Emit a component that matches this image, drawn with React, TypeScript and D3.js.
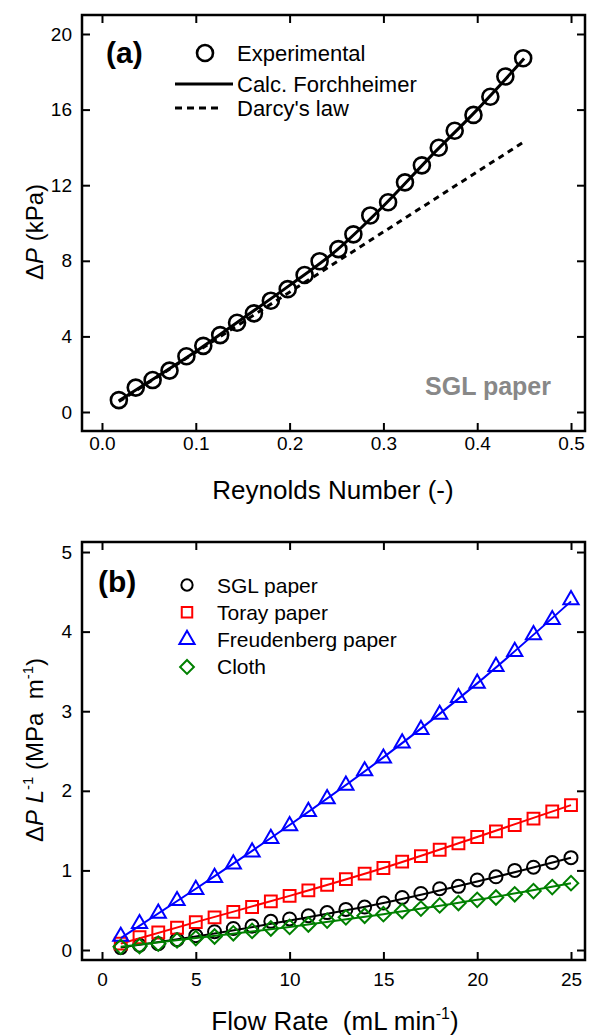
import React, { useRef, useEffect } from 'react';
import * as d3 from 'd3';

// panel (a): SGL paper, pressure drop vs Reynolds number
const reynolds = [
  0.018, 0.036, 0.054, 0.072, 0.09, 0.108, 0.126, 0.144, 0.162, 0.18, 0.198, 0.216, 0.232,
  0.252, 0.268, 0.286, 0.305, 0.323, 0.341, 0.359, 0.376, 0.396, 0.414, 0.43, 0.449
];
const dpExperimental = [
  0.63, 1.29, 1.69, 2.19, 2.95, 3.5, 4.07, 4.72, 5.22, 5.89, 6.5, 7.25, 7.98,
  8.62, 9.4, 10.4, 11.1, 12.15, 13.05, 13.98, 14.88, 15.72, 16.68, 17.75, 18.72
];
const forchReynolds = [0.018, 0.05, 0.1, 0.15, 0.2, 0.25, 0.3, 0.35, 0.4, 0.45];
const forchDp = [0.6, 1.6, 3.2, 4.95, 6.7, 8.55, 10.9, 13.5, 16.0, 18.7];
const darcyReynolds = [0.018, 0.45];
const darcyDp = [0.55, 14.3];
const reTicks = [0, 0.1, 0.2, 0.3, 0.4, 0.5];
const dpTicks = [0, 4, 8, 12, 16, 20];

// panel (b): pressure gradient vs flow rate
const flowRate = [1, 2, 3, 4, 5, 6, 7, 8, 9, 10, 11, 12, 13, 14, 15, 16, 17, 18, 19, 20, 21, 22, 23, 24, 25];
const sglPaper = [
  0.03, 0.06, 0.08, 0.13, 0.18, 0.23, 0.27, 0.3, 0.36, 0.39, 0.43, 0.47, 0.51,
  0.54, 0.59, 0.66, 0.71, 0.77, 0.8, 0.88, 0.92, 1.0, 1.04, 1.1, 1.16
];
const torayPaper = [
  0.08, 0.16, 0.22, 0.28, 0.35, 0.41, 0.48, 0.54, 0.61, 0.68, 0.75, 0.82, 0.89,
  0.96, 1.03, 1.11, 1.18, 1.26, 1.34, 1.42, 1.49, 1.57, 1.65, 1.74, 1.82
];
const freudenbergPaper = [
  0.17, 0.33, 0.46, 0.62, 0.76, 0.91, 1.08, 1.23, 1.4, 1.56, 1.74, 1.9, 2.07,
  2.25, 2.41, 2.6, 2.77, 2.96, 3.17, 3.35, 3.56, 3.75, 3.96, 4.15, 4.4
];
const cloth = [
  0.04, 0.05, 0.08, 0.12, 0.15, 0.17, 0.21, 0.24, 0.27, 0.29, 0.32, 0.37, 0.41,
  0.43, 0.45, 0.49, 0.52, 0.56, 0.59, 0.63, 0.66, 0.7, 0.74, 0.79, 0.84
];
const fitFlow = [1, 5, 10, 15, 20, 25];
const sglFit = [0.03, 0.17, 0.37, 0.59, 0.86, 1.16];
const torayFit = [0.08, 0.35, 0.68, 1.03, 1.42, 1.82];
const freudenbergFit = [0.15, 0.77, 1.57, 2.42, 3.35, 4.38];
const clothFit = [0.04, 0.15, 0.29, 0.45, 0.63, 0.84];
const flowTicks = [0, 5, 10, 15, 20, 25];
const gradTicks = [0, 1, 2, 3, 4, 5];

const seriesNames = ['SGL paper', 'Toray paper', 'Freudenberg paper', 'Cloth'];

export default function App() {
  const svgRef = useRef<SVGSVGElement>(null);

  useEffect(() => {
    const svg = d3.select(svgRef.current);
    svg.selectAll('*').remove();
    svg.attr('font-family', "'Liberation Sans', Arial, sans-serif");

    // draws frame with inward ticks on all four sides
    const frame = (x, y, xt, yt, xfmt, xpad) => {
      const [x0, x1] = x.range();
      const [y0, y1] = y.range();
      const style = g => {
        g.select('.domain').remove();
        g.selectAll('line').attr('stroke', '#000').attr('stroke-width', 2);
        g.selectAll('text').attr('font-size', 19).attr('fill', '#000').attr('font-family', null);
        g.attr('font-family', null).attr('font-size', null);
      };
      svg.append('g').attr('transform', `translate(0,${y0})`)
        .call(d3.axisBottom(x).tickValues(xt).tickFormat(xfmt).tickSizeInner(-8).tickSizeOuter(0).tickPadding(xpad))
        .call(style);
      svg.append('g').attr('transform', `translate(0,${y1})`)
        .call(d3.axisTop(x).tickValues(xt).tickFormat(() => '').tickSizeInner(-8).tickSizeOuter(0))
        .call(style);
      svg.append('g').attr('transform', `translate(${x0},0)`)
        .call(d3.axisLeft(y).tickValues(yt).tickFormat(d3.format('d')).tickSizeInner(-8).tickSizeOuter(0).tickPadding(10))
        .call(style);
      svg.append('g').attr('transform', `translate(${x1},0)`)
        .call(d3.axisRight(y).tickValues(yt).tickFormat(() => '').tickSizeInner(-8).tickSizeOuter(0))
        .call(style);
      svg.append('rect')
        .attr('x', x0).attr('y', y1)
        .attr('width', x1 - x0).attr('height', y0 - y1)
        .attr('fill', 'none').attr('stroke', '#000').attr('stroke-width', 2.5);
    };

    // ---------- panel (a) ----------
    const xA = d3.scaleLinear().domain([-0.0213, 0.5149]).range([82, 585]);
    const yA = d3.scaleLinear().domain([-1.005, 21.005]).range([431, 15]);
    frame(xA, yA, reTicks, dpTicks, d3.format('.1f'), 6);

    const lineA = d3.line<number>().curve(d3.curveMonotoneX);
    svg.append('path')
      .attr('d', lineA(darcyReynolds.map((r, i) => [xA(r), yA(darcyDp[i])])))
      .attr('fill', 'none').attr('stroke', '#000').attr('stroke-width', 3)
      .attr('stroke-dasharray', '6,5');
    svg.append('path')
      .attr('d', lineA(forchReynolds.map((r, i) => [xA(r), yA(forchDp[i])])))
      .attr('fill', 'none').attr('stroke', '#000').attr('stroke-width', 3);
    svg.append('g').selectAll('circle')
      .data(reynolds)
      .enter()
      .append('circle')
      .attr('cx', d => xA(d))
      .attr('cy', (d, i) => yA(dpExperimental[i]))
      .attr('r', 8)
      .attr('fill', 'none').attr('stroke', '#000').attr('stroke-width', 2.6);

    svg.append('text').text('(a)')
      .attr('x', 106).attr('y', 63)
      .attr('font-size', 30).attr('font-weight', 'bold');

    // legend (a)
    svg.append('circle').attr('cx', 205).attr('cy', 53).attr('r', 8)
      .attr('fill', 'none').attr('stroke', '#000').attr('stroke-width', 2.6);
    svg.append('line').attr('x1', 175).attr('x2', 233).attr('y1', 84).attr('y2', 84)
      .attr('stroke', '#000').attr('stroke-width', 3);
    svg.append('line').attr('x1', 175).attr('x2', 222).attr('y1', 108).attr('y2', 108)
      .attr('stroke', '#000').attr('stroke-width', 3).attr('stroke-dasharray', '7,5');
    ['Experimental', 'Calc. Forchheimer', "Darcy's law"].forEach((t, i) => {
      svg.append('text').text(t)
        .attr('x', 237).attr('y', [61, 92, 116][i])
        .attr('font-size', 22);
    });

    svg.append('text').text('SGL paper')
      .attr('x', 551).attr('y', 395)
      .attr('text-anchor', 'end')
      .attr('font-size', 25).attr('font-weight', 'bold').attr('fill', '#888');

    svg.append('text').text('Reynolds Number (-)')
      .attr('x', 333).attr('y', 499)
      .attr('text-anchor', 'middle').attr('font-size', 26);

    const tA = svg.append('text')
      .attr('transform', 'translate(43,232) rotate(-90)')
      .attr('text-anchor', 'middle').attr('font-size', 24);
    tA.append('tspan').text('Δ');
    tA.append('tspan').text('P').attr('font-style', 'italic');
    tA.append('tspan').text(' (kPa)');

    // ---------- panel (b) ----------
    const xB = d3.scaleLinear().domain([-1.066, 25.746]).range([82, 585]);
    const yB = d3.scaleLinear().domain([-0.1256, 5.126]).range([960, 542]);
    frame(xB, yB, flowTicks, gradTicks, d3.format('d'), 13);

    const colors = ['#000000', '#ff0000', '#0000ff', '#008000'];
    const values = [sglPaper, torayPaper, freudenbergPaper, cloth];
    const fits = [sglFit, torayFit, freudenbergFit, clothFit];
    const shapes = [
      d3.symbol().type(d3.symbolCircle).size(133),
      d3.symbol().type(d3.symbolSquare).size(140),
      d3.symbol().type(d3.symbolTriangle).size(100),
      d3.symbol().type(d3.symbolSquare).size(105)
    ];
    const legendShapes = [
      d3.symbol().type(d3.symbolCircle).size(100),
      d3.symbol().type(d3.symbolSquare).size(110),
      d3.symbol().type(d3.symbolTriangle).size(100),
      d3.symbol().type(d3.symbolSquare).size(95)
    ];
    const lineB = d3.line<number>().curve(d3.curveMonotoneX);

    values.forEach((vals, s) => {
      svg.append('path')
        .attr('d', lineB(fitFlow.map((q, i) => [xB(q), yB(fits[s][i])])))
        .attr('fill', 'none').attr('stroke', colors[s]).attr('stroke-width', 2);
      svg.append('g').selectAll('path')
        .data(flowRate)
        .enter()
        .append('path')
        .attr('d', shapes[s]())
        .attr('transform', (d, i) =>
          `translate(${xB(d)},${yB(vals[i])})` + (s === 3 ? ' rotate(45)' : ''))
        .attr('fill', 'none').attr('stroke', colors[s]).attr('stroke-width', 2);
    });

    svg.append('text').text('(b)')
      .attr('x', 98).attr('y', 592)
      .attr('font-size', 30).attr('font-weight', 'bold');

    seriesNames.forEach((name, s) => {
      const cy = 585 + s * 27.3;
      svg.append('path')
        .attr('d', legendShapes[s]())
        .attr('transform', `translate(187,${cy})` + (s === 3 ? ' rotate(45)' : ''))
        .attr('fill', 'none').attr('stroke', colors[s]).attr('stroke-width', 2);
      svg.append('text').text(name)
        .attr('x', 217).attr('y', cy + 7.5)
        .attr('font-size', 21);
    });

    const xt = svg.append('text')
      .attr('x', 335).attr('y', 1030)
      .attr('text-anchor', 'middle').attr('font-size', 26)
      .style('white-space', 'pre');
    xt.append('tspan').text('Flow Rate  (mL min');
    xt.append('tspan').text('-1').attr('font-size', 16).attr('dy', -11);
    xt.append('tspan').text(')').attr('dy', 11);

    const tB = svg.append('text')
      .attr('transform', 'translate(43,750) rotate(-90)')
      .attr('text-anchor', 'middle').attr('font-size', 24)
      .style('white-space', 'pre');
    tB.append('tspan').text('Δ');
    tB.append('tspan').text('P').attr('font-style', 'italic');
    tB.append('tspan').text(' ');
    tB.append('tspan').text('L').attr('font-style', 'italic');
    tB.append('tspan').text('-1').attr('font-size', 15).attr('dy', -10);
    tB.append('tspan').text(' (MPa  m').attr('dy', 10);
    tB.append('tspan').text('-1').attr('font-size', 15).attr('dy', -10);
    tB.append('tspan').text(')').attr('dy', 10);
  }, []);

  return (
    <svg
      ref={svgRef}
      width={589}
      height={1035}
      style={{ position: 'absolute', left: 0, top: 0, background: '#fff' }}
    />
  );
}
